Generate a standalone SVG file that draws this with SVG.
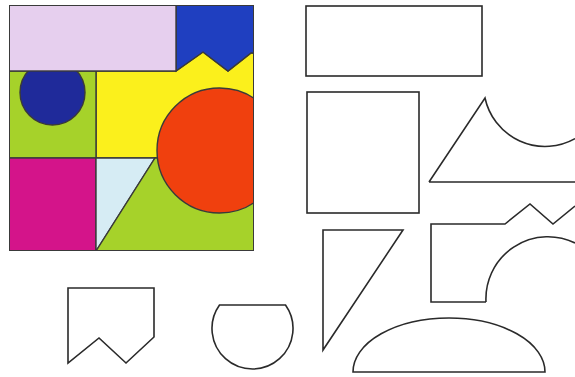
<svg xmlns="http://www.w3.org/2000/svg" width="575" height="377" viewBox="0 0 575 377">
<style>
.o{fill:none;stroke:#2a2a2a;stroke-width:1.6;stroke-linejoin:miter}
.e{stroke:#3a3a3a;stroke-width:1.4}
</style>
<defs>
<clipPath id="sq"><rect x="9" y="5" width="245" height="246"/></clipPath>
</defs>
<rect width="575" height="377" fill="#ffffff"/>
<g id="puzzle" clip-path="url(#sq)">
<rect x="9" y="5" width="245" height="246" fill="#a6d22a"/>
<path class="e" d="M96,71 H176 L203,52 L228,71 L251,53 L254,53 V158 H96 Z" fill="#fbf01c"/>
<path class="e" d="M176,5 H254 V53 L251,53 L228,71 L203,52 L176,71 Z" fill="#1f3fc0"/>
<rect class="e" x="9" y="71" width="87" height="87" fill="#a6d22a"/>
<circle class="e" cx="52.5" cy="92.5" r="32.5" fill="#1f2a9a"/>
<rect class="e" x="9" y="5" width="167" height="66" fill="#e6cfee"/>
<rect class="e" x="9" y="158" width="87" height="93" fill="#d4148a"/>
<path class="e" d="M96,158 H155 L96,251 Z" fill="#d6ecf4"/>
<path class="e" d="M96,251 L155,158 H254 V251 Z" fill="#a6d22a"/>
<circle class="e" cx="219.5" cy="150.5" r="62.5" fill="#f0400e"/>
<rect x="9" y="5" width="245" height="246" fill="none" stroke="#3a3a3a" stroke-width="2"/>
</g>
<g id="rect-piece"><rect class="o" x="306" y="6" width="176" height="70"/></g>
<g id="square-piece"><rect class="o" x="307" y="92" width="112" height="121"/></g>
<g id="arc-triangle-piece"><path class="o" d="M429,182 L485,98 A61.4,61.4 0 0 0 575,138.6 M575,182 H429"/></g>
<g id="right-triangle-piece"><path class="o" d="M323,230 H403 L323,350 Z"/></g>
<g id="zigzag-piece"><path class="o" d="M486,302 H431 V224 H505 L530,204 L553,224 L575,206 M575,243 A62,62 0 0 0 486,302"/></g>
<g id="half-ellipse-piece"><path class="o" d="M353,372 A96,54 0 0 1 545,372 Z"/></g>
<g id="notch-piece"><path class="o" d="M68,288 H154 V337 L126,363 L99,338 L68,363 Z"/></g>
<g id="cut-circle-piece"><path class="o" d="M219.5,305 H285.5 A40.5,40.5 0 1 1 219.5,305 Z"/></g>
</svg>
